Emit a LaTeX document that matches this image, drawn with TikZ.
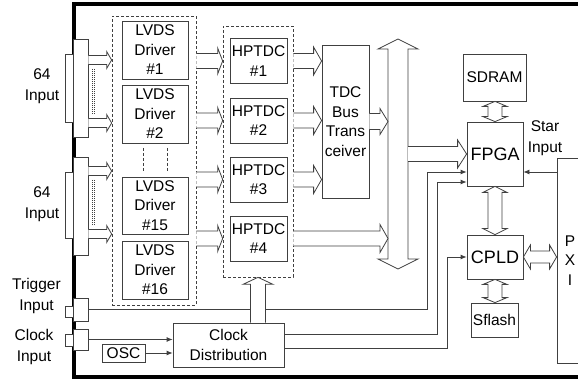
\documentclass[tikz,border=0pt]{standalone}
\usepackage{fontspec}
\setmainfont{Liberation Sans}
\usetikzlibrary{arrows.meta}
\usetikzlibrary{calc}
\tikzset{
  box/.style={draw=black!75, fill=white, line width=0.8pt, inner sep=0pt, align=center,
    font=\fontsize{15.5}{19.5}\selectfont},
  bigbox/.style={box, font=\fontsize{18}{22}\selectfont},
  group/.style={draw=black!75, line width=0.7pt, dash pattern=on 3pt off 2pt, inner sep=0pt},
  fatline/.style={draw=black!75, fill=white, line width=0.8pt, line join=miter},
  sig/.style={draw=black!75, line width=0.8pt, -{Latex[length=6pt,width=5pt]}},
  lbl/.style={align=center, inner sep=0pt, font=\fontsize{15.5}{21}\selectfont},
}
\newcommand{\fatArrow}[5]{
  \path #1 coordinate (fa-s) #2 coordinate (fa-e);
  \path ($(fa-e)!#5!(fa-s)$) coordinate (fa-b);
  \filldraw[fatline] ($(fa-s)!#3!90:(fa-e)$) -- ($(fa-b)!#3!90:(fa-e)$)
    -- ($(fa-b)!#4!90:(fa-e)$) -- (fa-e) -- ($(fa-b)!#4!-90:(fa-e)$)
    -- ($(fa-b)!#3!-90:(fa-e)$) -- ($(fa-s)!#3!-90:(fa-e)$)
}
\newcommand{\fatTwoWay}[5]{
  \path #1 coordinate (fa-s) #2 coordinate (fa-e);
  \path ($(fa-s)!#5!(fa-e)$) coordinate (fa-b) ($(fa-e)!#5!(fa-s)$) coordinate (fa-c);
  \filldraw[fatline] (fa-s) -- ($(fa-b)!#4!90:(fa-e)$) -- ($(fa-b)!#3!90:(fa-e)$)
    -- ($(fa-c)!#3!90:(fa-e)$) -- ($(fa-c)!#4!90:(fa-e)$) -- (fa-e)
    -- ($(fa-c)!#4!-90:(fa-e)$) -- ($(fa-c)!#3!-90:(fa-e)$)
    -- ($(fa-b)!#3!-90:(fa-e)$) -- ($(fa-b)!#4!-90:(fa-e)$) -- cycle
}

\begin{document}
\begin{tikzpicture}[x=1pt,y=-1pt]
  \useasboundingbox (0,0) rectangle (578,379);
  \draw[line width=4pt] (590,4.5) -- (74,4.5) -- (74,376.5) -- (590,376.5);

  \node[box, minimum width=8, minimum height=68] (in1i) at (69,88) {};
  \node[box, minimum width=15, minimum height=98] (in1) at (80.5,88) {};
  \node[box, minimum width=8, minimum height=66] (in2i) at (69,205) {};
  \node[box, minimum width=15, minimum height=98] (in2) at (80.5,206) {};
  \node[box, minimum width=8, minimum height=11] (trigi) at (69,311.5) {};
  \node[box, minimum width=15, minimum height=23] (trig) at (80.5,309.5) {};
  \node[box, minimum width=8, minimum height=12] (clki) at (69,340) {};
  \node[box, minimum width=15, minimum height=21] (clk) at (80.5,339.5) {};

  \node[lbl] (lin1) at (42,86.5) {64\\Input};
  \node[lbl] (lin2) at (42,204.5) {64\\Input};
  \node[lbl] (ltrig) at (36.5,295.5) {Trigger\\Input};
  \node[lbl] (lclk) at (34,347) {Clock\\Input};

  \node[group, minimum width=84, minimum height=289] (lvdsgrp) at (154,160.5) {};
  \node[box, minimum width=66, minimum height=58] (lvds1) at (155,50) {LVDS\\Driver\\\#1};
  \node[box, minimum width=66, minimum height=58] (lvds2) at (155,114) {LVDS\\Driver\\\#2};
  \node[box, minimum width=66, minimum height=57] (lvds15) at (155,205.5) {LVDS\\Driver\\\#15};
  \node[box, minimum width=66, minimum height=58] (lvds16) at (155,270) {LVDS\\Driver\\\#16};
  \draw[group] (143,148) -- (143,172) (167,148) -- (167,172);

  \node[group, minimum width=70, minimum height=251] (hpgrp) at (258,151.5) {};
  \foreach \i/\y in {1/61,2/120.5,3/179.5,4/238.5}
    \node[box, minimum width=57, minimum height=45] (hp\i) at (258.5,\y) {HPTDC\\\#\i};

  \node[box, minimum width=47, minimum height=153] (tdc) at (345.5,121.5) {TDC\\Bus\\Trans\\ceiver};

  \node[box, minimum width=63, minimum height=47] (sdram) at (494.5,77.5) {SDRAM};
  \node[bigbox, minimum width=56, minimum height=64] (fpga) at (495,154) {FPGA};
  \node[bigbox, minimum width=56, minimum height=44] (cpld) at (495,257) {CPLD};
  \node[box, minimum width=47, minimum height=34] (sflash) at (494.5,320) {Sflash};
  \node[box, minimum width=26, minimum height=205] (pxi) at (570,260.5) {P\\X\\I};
  \node[lbl] (star) at (545,138) {Star\\Input};

  \node[box, minimum width=111, minimum height=44] (clkdist) at (228.5,345) {Clock\\Distribution};
  \node[box, minimum width=43, minimum height=18] (osc) at (123.5,353) {OSC};

  \draw[black!75, line width=0.6pt, dash pattern=on 1pt off 1pt]
    (92,69) -- (92,114) (94.5,69) -- (94.5,114)
    (92,180) -- (92,225) (94.5,180) -- (94.5,225);

  \draw[sig] (trig.east) -| (427,172) -- (fpga.west |- 0,172);
  \draw[sig] (clkdist.east |- 0,334) -| (437,182) -- (fpga.west |- 0,182);
  \draw[sig] (clkdist.east |- 0,348) -| (447,257) -- (cpld.west);
  \draw[sig] (pxi.west |- 0,172) -- (fpga.east |- 0,172);
  \draw[sig] (clk.east) -- (clkdist.west |- clk);
  \draw[sig] (osc.east) -- (clkdist.west |- osc);

  \coordinate (bustop) at (398,39);
  \coordinate (busbot) at (398,269);
  \coordinate (busL) at (388,154);
  \coordinate (busR) at (408,154);
  \fatTwoWay{(bustop)}{(busbot)}{10pt}{20pt}{10pt};

  \foreach \y in {60,123,171,234}
    \fatArrow{(in1.east |- 0,\y)}{(lvdsgrp.west |- 0,\y)}{4.5pt}{8.5pt}{5pt};
  \foreach \i in {1,...,4}
    \fatArrow{(lvdsgrp.east |- hp\i)}{(hpgrp.west |- hp\i)}{7.5pt}{13pt}{5pt};
  \foreach \i in {1,2,3}
    \fatArrow{(hpgrp.east |- hp\i)}{(tdc.west |- hp\i)}{7.5pt}{14pt}{8pt};
  \fatArrow{(hpgrp.east |- hp4)}{(busL |- hp4)}{7.5pt}{14pt}{8pt};
  \fatArrow{(tdc.east)}{(busL |- tdc)}{8pt}{13pt}{8pt};
  \fatArrow{(busR |- fpga)}{(fpga.west)}{7.5pt}{14pt}{9pt};
  \fatArrow{(hpgrp.south |- clkdist.north)}{(hpgrp.south)}{7.5pt}{15pt}{7pt};

  \fatTwoWay{(fpga.north |- sdram.south)}{(fpga.north)}{7pt}{12pt}{5pt};
  \fatTwoWay{(fpga.south)}{(cpld.north)}{7pt}{12pt}{6pt};
  \fatTwoWay{(cpld.south)}{(sflash.north -| cpld.south)}{7pt}{12pt}{5pt};
  \fatTwoWay{(cpld.east)}{(pxi.west |- cpld)}{6pt}{12pt}{7pt};
\end{tikzpicture}
\end{document}
